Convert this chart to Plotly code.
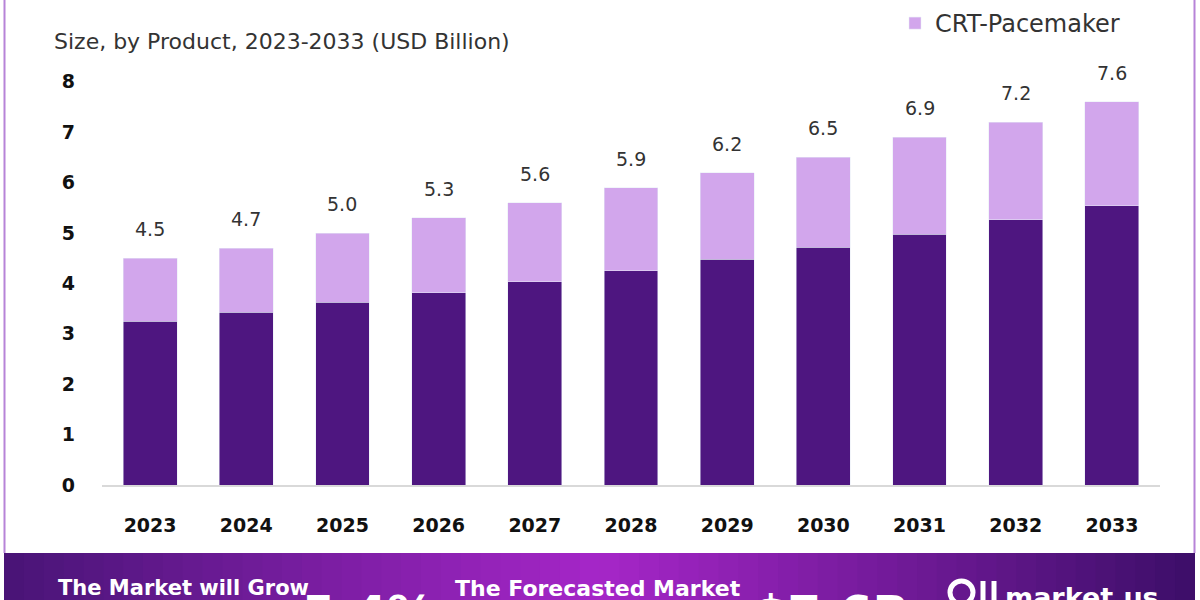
import plotly.graph_objects as go

years = ["2023", "2024", "2025", "2026", "2027", "2028", "2029", "2030", "2031", "2032", "2033"]
crt_d = [3.25, 3.43, 3.63, 3.81, 4.03, 4.25, 4.48, 4.72, 4.98, 5.26, 5.54]
crt_p = [1.25, 1.27, 1.37, 1.49, 1.57, 1.65, 1.72, 1.78, 1.92, 1.94, 2.06]
totals = [4.5, 4.7, 5.0, 5.3, 5.6, 5.9, 6.2, 6.5, 6.9, 7.2, 7.6]
total_labels = ["4.5", "4.7", "5.0", "5.3", "5.6", "5.9", "6.2", "6.5", "6.9", "7.2", "7.6"]
y_ticks = [0, 1, 2, 3, 4, 5, 6, 7, 8]

DARK = "#4e1680"
LIGHT = "#d2a6ec"
FONT = "DejaVu Sans"

# pixel -> paper helpers (plot area: x 102..1160, y 72..485)
L, R, T, B = 102, 1160, 72, 485
def px(x):
    return (x - L) / (R - L)
def py(y):
    return (B - y) / (B - T)

fig = go.Figure()
fig.add_trace(go.Bar(x=years, y=crt_d, name="CRT-Defibrillator", marker_color=DARK,
                     showlegend=False))
fig.add_trace(go.Bar(x=years, y=crt_p, name="CRT-Pacemaker", marker_color=LIGHT))

annotations = []
for i, (tot, lab) in enumerate(zip(totals, total_labels)):
    # category axis: annotation x given as the category index
    annotations.append(dict(x=i, y=tot, xref="x", yref="y", text=lab, showarrow=False,
                            yanchor="bottom", yshift=16,
                            font=dict(size=19, color="#333333", family=FONT)))

annotations.append(dict(xref="paper", yref="paper", x=px(52), y=py(42), xanchor="left",
                        yanchor="middle", showarrow=False,
                        text="Size, by Product, 2023-2033 (USD Billion)",
                        font=dict(size=22, color="#333333", family=FONT)))

shapes = []
# gradient banner
n = 60
x0p, x1p = 4, 1195
def lerp(c1, c2, t):
    return tuple(int(round(a + (b - a) * t)) for a, b in zip(c1, c2))
c_left = (72, 20, 118)
c_mid = (166, 38, 200)
c_right = (60, 14, 104)
for k in range(n):
    t = (k + 0.5) / n
    if t < 0.5:
        c = lerp(c_left, c_mid, t / 0.5)
    else:
        c = lerp(c_mid, c_right, (t - 0.5) / 0.5)
    xa = x0p + (x1p - x0p) * k / n
    xb = min(x1p, x0p + (x1p - x0p) * (k + 1) / n + 3)
    col = "rgb(%d,%d,%d)" % c
    shapes.append(dict(type="rect", xref="paper", yref="paper", x0=px(xa), x1=px(xb),
                       y0=py(553), y1=py(640), fillcolor=col,
                       line=dict(width=0), layer="below"))
# border lines
for xx in (4.5, 1194.5):
    shapes.append(dict(type="line", xref="paper", yref="paper", x0=px(xx), x1=px(xx),
                       y0=py(-5), y1=py(553), line=dict(color="#b784d8", width=2)))
# logo mark
shapes.append(dict(type="circle", xref="paper", yref="paper", x0=px(950), x1=px(973),
                   y0=py(604), y1=py(581), line=dict(color="white", width=5)))
for xx in (983, 994):
    shapes.append(dict(type="line", xref="paper", yref="paper", x0=px(xx), x1=px(xx),
                       y0=py(605), y1=py(581), line=dict(color="white", width=5)))

bold_white = dict(color="white", family=FONT, size=22, weight="bold")
annotations += [
    dict(xref="paper", yref="paper", x=px(56), y=py(588), xanchor="left", yanchor="middle",
         showarrow=False, text="The Market will Grow", font=dict(color="white", family=FONT, size=21, weight="bold")),
    dict(xref="paper", yref="paper", x=px(453), y=py(588), xanchor="left", yanchor="middle",
         showarrow=False, text="The Forecasted Market", font=bold_white),
    dict(xref="paper", yref="paper", x=px(300), y=py(613), xanchor="left", yanchor="middle",
         showarrow=False, text="5.4%", font=dict(color="white", family=FONT, size=48, weight="bold")),
    dict(xref="paper", yref="paper", x=px(752), y=py(613), xanchor="left", yanchor="middle",
         showarrow=False, text="$7.6B", font=dict(color="white", family=FONT, size=48, weight="bold")),
    dict(xref="paper", yref="paper", x=px(1003), y=py(597), xanchor="left", yanchor="middle",
         showarrow=False, text="market.us", font=dict(color="white", family=FONT, size=27, weight="bold")),
]

fig.update_layout(
    width=1200, height=600,
    margin=dict(l=L, r=1200 - R, t=T, b=600 - B, autoexpand=False),
    paper_bgcolor="white", plot_bgcolor="white",
    barmode="stack", bargap=0.44,
    font=dict(family=FONT, color="#111111"),
    legend=dict(x=px(895), y=py(1), xanchor="left", yanchor="top", orientation="h",
                font=dict(size=24, color="#333333", family=FONT), bgcolor="rgba(0,0,0,0)",
                itemwidth=30),
    annotations=annotations,
    shapes=shapes,
    xaxis=dict(type="category", showgrid=False, showline=True, linecolor="#d9d9d9", linewidth=2,
               tickfont=dict(size=19, color="#111111", family=FONT, weight="bold"),
               ticks="", ticklabelstandoff=22),
    yaxis=dict(range=[0, (B - T) / 50.4], showgrid=False, zeroline=False, showline=False,
               tickvals=y_ticks, tickfont=dict(size=19, color="#111111", family=FONT, weight="bold"),
               ticks="", ticklabelstandoff=26),
)

fig.write_html("out.html", config={"displayModeBar": False})

with open("out.html", "r", encoding="utf-8") as f:
    html = f.read()
html = html.replace("<head>", "<head><style>html,body{margin:0;padding:0;overflow:hidden}</style>", 1)
with open("out.html", "w", encoding="utf-8") as f:
    f.write(html)
